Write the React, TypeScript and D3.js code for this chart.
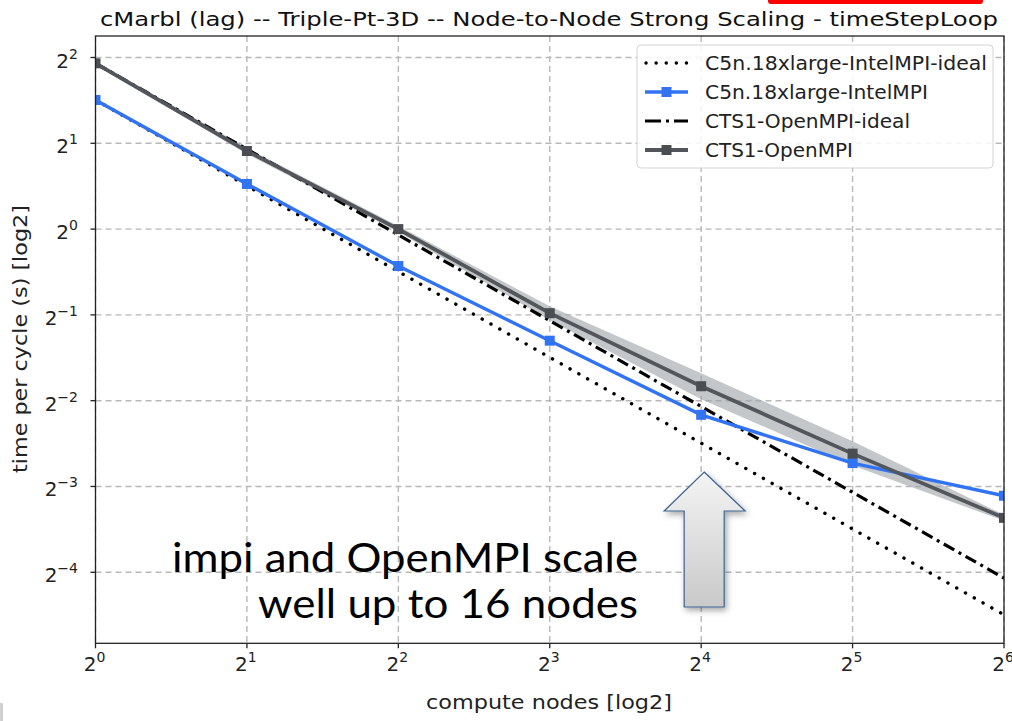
import React from "react";
import * as d3 from "d3";

// ---- data ----
const nodes = [1, 2, 4, 8, 16, 32, 64];
const c5nTimes = [2.838, 1.44, 0.742, 0.406, 0.223, 0.151, 0.116];
const cts1Times = [3.816, 1.879, 1.0, 0.507, 0.281, 0.163, 0.097];
const cts1Lower = [3.755, 1.834, 0.976, 0.479, 0.253, 0.148, 0.0947];
const cts1Upper = [3.877, 1.925, 1.025, 0.536, 0.312, 0.18, 0.0994];
const xTickExps = [0, 1, 2, 3, 4, 5, 6];
const yTickExps = [2, 1, 0, -1, -2, -3, -4];
const legendLabels = [
  "C5n.18xlarge-IntelMPI-ideal",
  "C5n.18xlarge-IntelMPI",
  "CTS1-OpenMPI-ideal",
  "CTS1-OpenMPI",
];
const titleText = "cMarbl (lag) -- Triple-Pt-3D -- Node-to-Node Strong Scaling - timeStepLoop";
const yDomain = [0.03521, 4.759];

const c5nIdeal = nodes.map((n) => c5nTimes[0] / n);
const cts1Ideal = nodes.map((n) => cts1Times[0] / n);

const BLUE = "#3273f2";
const GRAY = "#53575c";
const FONT = "DejaVu Sans";

const L = 95.5, R = 1004, T = 36, B = 643.3;

const sup = (e: number) => (e < 0 ? "\u2212" + Math.abs(e) : String(e));

export default function App() {
  const x = d3.scaleLog().base(2).domain([1, 64]).range([L, R]);
  const y = d3.scaleLog().base(2).domain(yDomain).range([B, T]);

  const line = d3
    .line<number>()
    .x((_, i) => x(nodes[i]))
    .y((d) => y(d));
  const area = d3
    .area<number>()
    .x((_, i) => x(nodes[i]))
    .y0((_, i) => y(cts1Lower[i]))
    .y1((_, i) => y(cts1Upper[i]));

  const legendX = 637, legendY = 45;
  const rowY = (i: number) => 63 + i * 29;
  const legendEnds = [987, 928, 910, 853];

  const arrowX = x(16) + 3;

  return (
    <svg
      width={1012}
      height={721}
      style={{ position: "absolute", left: 0, top: 0, background: "#fff" }}
      fontFamily={FONT}
    >
      <defs>
        <clipPath id="plot">
          <rect x={L} y={T} width={R - L} height={B - T} />
        </clipPath>
        <linearGradient id="arrowGrad" x1="0" y1="0" x2="0" y2="1">
          <stop offset="0" stopColor="#f4f4f4" />
          <stop offset="1" stopColor="#c9c9c9" />
        </linearGradient>
        <filter id="shadow" x="-30%" y="-30%" width="160%" height="160%">
          <feDropShadow dx="2" dy="3" stdDeviation="3" floodColor="#000" floodOpacity="0.35" />
        </filter>
      </defs>
      <rect width={1012} height={721} fill="#fff" />
      <rect x={768} y={-4} width={215} height={8} rx={3} fill="#ff0000" />
      <rect x={0} y={703} width={3} height={18} fill="#cfcfcf" />

      {/* title */}
      <text x={549} y={26} fontSize={20} textAnchor="middle" textLength={898} lengthAdjust="spacingAndGlyphs" fill="#111">
        {titleText}
      </text>

      {/* grid */}
      <g stroke="#b8b8b8" strokeWidth={1.4} strokeDasharray="6,4">
        {xTickExps.map((e) => (
          <line key={"gx" + e} x1={x(2 ** e)} x2={x(2 ** e)} y1={T} y2={B} />
        ))}
        {yTickExps.map((e) => (
          <line key={"gy" + e} x1={L} x2={R} y1={y(2 ** e)} y2={y(2 ** e)} />
        ))}
      </g>

      <g clipPath="url(#plot)">
        <path d={area(cts1Times) || ""} fill="#9ca1a6" opacity={0.6} />
        <path d={line(c5nIdeal) || ""} fill="none" stroke="#000" strokeWidth={3.4} strokeDasharray="0.1,10" strokeLinecap="round" />
        <path d={line(cts1Ideal) || ""} fill="none" stroke="#000" strokeWidth={3.2} strokeDasharray="12,5,3,5" />
        <path d={line(c5nTimes) || ""} fill="none" stroke={BLUE} strokeWidth={3.4} />
        <path d={line(cts1Times) || ""} fill="none" stroke={GRAY} strokeWidth={3.8} />
        {c5nTimes.map((v, i) => (
          <rect key={"bm" + i} x={x(nodes[i]) - 5} y={y(v) - 5} width={10} height={10} fill={BLUE} />
        ))}
        {cts1Times.map((v, i) => (
          <rect key={"gm" + i} x={x(nodes[i]) - 5} y={y(v) - 5} width={10} height={10} fill="#4a4e53" />
        ))}
      </g>

      {/* frame */}
      <rect x={L} y={T} width={R - L} height={B - T} fill="none" stroke="#222" strokeWidth={1.3} />

      {/* x ticks */}
      {xTickExps.map((e) => (
        <g key={"xt" + e}>
          <line x1={x(2 ** e)} x2={x(2 ** e)} y1={B} y2={B + 5} stroke="#222" strokeWidth={1.3} />
          <text x={x(2 ** e) - 1} y={671} fontSize={20} textAnchor="middle" fill="#222">
            2<tspan dy={-9} fontSize={14}>{sup(e)}</tspan>
          </text>
        </g>
      ))}
      {/* y ticks */}
      {yTickExps.map((e) => (
        <g key={"yt" + e}>
          <line x1={L - 5} x2={L} y1={y(2 ** e)} y2={y(2 ** e)} stroke="#222" strokeWidth={1.3} />
          <text x={78} y={y(2 ** e) + 10} fontSize={20} textAnchor="end" fill="#222">
            2<tspan dy={-9} fontSize={14}>{sup(e)}</tspan>
          </text>
        </g>
      ))}

      <text x={549} y={709} fontSize={20} textAnchor="middle" textLength={246} lengthAdjust="spacingAndGlyphs" fill="#222">
        compute nodes [log2]
      </text>
      <text
        transform="translate(27,339) rotate(-90)"
        fontSize={20}
        textAnchor="middle"
        textLength={268}
        lengthAdjust="spacingAndGlyphs"
        fill="#222"
      >
        time per cycle (s) [log2]
      </text>

      {/* legend */}
      <rect x={legendX} y={legendY} width={356} height={123} rx={4} fill="#fff" fillOpacity={0.85} stroke="#d4d4d4" strokeWidth={1} />
      <line x1={646} x2={688} y1={rowY(0)} y2={rowY(0)} stroke="#000" strokeWidth={3.4} strokeDasharray="0.1,10" strokeLinecap="round" />
      <line x1={645} x2={688} y1={rowY(1)} y2={rowY(1)} stroke={BLUE} strokeWidth={3.4} />
      <rect x={661.5} y={rowY(1) - 5} width={10} height={10} fill={BLUE} />
      <line x1={645} x2={688} y1={rowY(2)} y2={rowY(2)} stroke="#000" strokeWidth={3.2} strokeDasharray="16,5,3,5" />
      <line x1={645} x2={688} y1={rowY(3)} y2={rowY(3)} stroke={GRAY} strokeWidth={3.8} />
      <rect x={661.5} y={rowY(3) - 5} width={10} height={10} fill="#4a4e53" />
      {legendLabels.map((t, i) => (
        <text key={t} x={705} y={rowY(i) + 7} fontSize={20} textLength={legendEnds[i] - 705} lengthAdjust="spacingAndGlyphs" fill="#222">
          {t}
        </text>
      ))}

      {/* annotation arrow */}
      <polygon
        points={[
          [arrowX, 472],
          [arrowX + 41, 511],
          [arrowX + 20, 511],
          [arrowX + 20, 607],
          [arrowX - 20, 607],
          [arrowX - 20, 511],
          [arrowX - 40, 511],
        ]
          .map((p) => p.join(","))
          .join(" ")}
        fill="url(#arrowGrad)"
        stroke="#3d6390"
        strokeWidth={1.2}
        filter="url(#shadow)"
      />
      <text x={638} y={572} fontFamily="Lato" fontSize={41} textAnchor="end" textLength={466} lengthAdjust="spacingAndGlyphs" fill="#000">
        impi and OpenMPI scale
      </text>
      <text x={638} y={618} fontFamily="Lato" fontSize={41} textAnchor="end" textLength={380} lengthAdjust="spacingAndGlyphs" fill="#000">
        well up to 16 nodes
      </text>
    </svg>
  );
}
